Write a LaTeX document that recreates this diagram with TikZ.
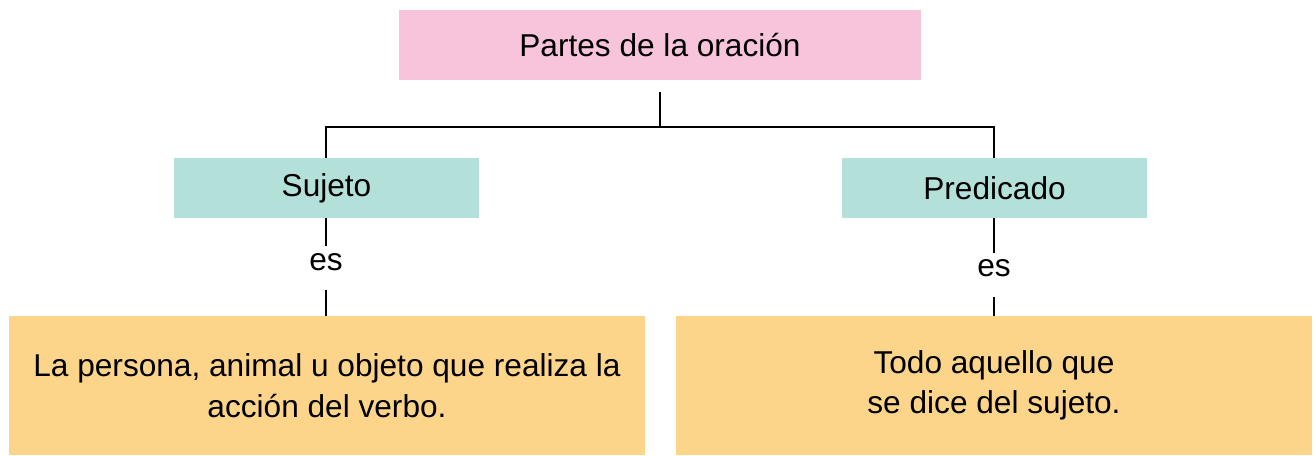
\documentclass[tikz,border=0pt]{standalone}
\usepackage{fontspec}
\setmainfont{Liberation Sans}
\definecolor{pinkbox}{HTML}{F8C4DC}
\definecolor{tealbox}{HTML}{B4E0DA}
\definecolor{orangebox}{HTML}{FCD58B}
\begin{document}
\begin{tikzpicture}[x=0.02cm,y=-0.02cm,
  box/.style={inner sep=0pt, outer sep=0pt, font=\fontsize{18}{23}\selectfont, align=center},
  conn/.style={line width=1.6pt, black}]
\useasboundingbox (0,0) rectangle (1316,456);
\node[box, fill=pinkbox, minimum width=522*0.02cm, minimum height=70*0.02cm] (title) at (660,45) {Partes de la oración};
\node[box, fill=tealbox, minimum width=305*0.02cm, minimum height=60*0.02cm] (suj) at (326.5,188) {Sujeto};
\node[box, fill=tealbox, minimum width=305*0.02cm, minimum height=60*0.02cm] (pred) at (994.5,188) {Predicado};
\node[box, fill=orangebox, minimum width=636*0.02cm, minimum height=139*0.02cm] (ldef) at (327,385.5) {La persona, animal u objeto que realiza la\\acción del verbo.};
\node[box, fill=orangebox, minimum width=636*0.02cm, minimum height=139*0.02cm] (rdef) at (994,385.5) {Todo aquello que\\se dice del sujeto.};
\node[font=\fontsize{18}{23}\selectfont, inner sep=0pt] (es1) at (326,262) {es};
\node[font=\fontsize{18}{23}\selectfont, inner sep=0pt] (es2) at (994,268) {es};
\coordinate (top) at (660,92);
\coordinate (junc) at (660,127);
\coordinate (lj) at (326,127);
\coordinate (rj) at (994,127);
\draw[conn] (top) -- (junc);
\draw[conn] (suj.north -| lj) -- (lj) -- (rj) -- (pred.north -| rj);
\draw[conn] (suj.south -| es1) -- ++(0,28);
\draw[conn] (ldef.north -| es1) -- ++(0,-26);
\draw[conn] (pred.south -| es2) -- ++(0,35);
\draw[conn] (rdef.north -| es2) -- ++(0,-19);
\end{tikzpicture}
\end{document}
